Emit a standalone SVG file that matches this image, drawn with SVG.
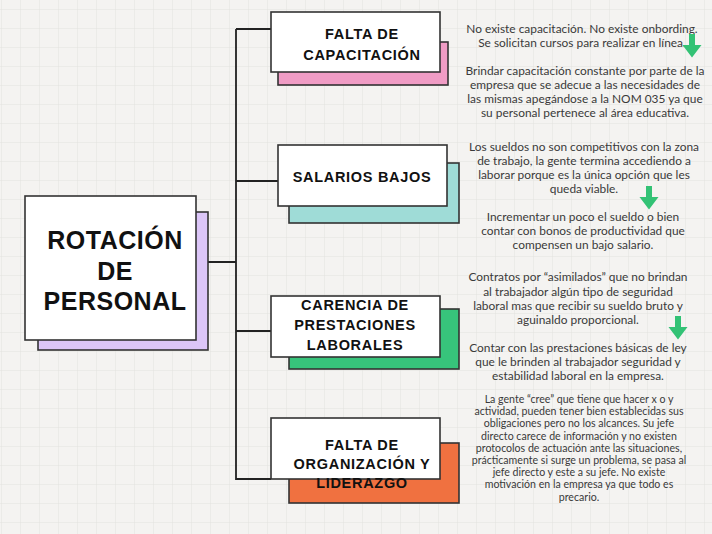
<svg xmlns="http://www.w3.org/2000/svg" width="712" height="534" viewBox="0 0 712 534">
<defs>
<pattern id="grid" width="19" height="19" patternUnits="userSpaceOnUse" x="2" y="10">
<path d="M19 0V19M0 19H19" fill="none" stroke="#e3e2df" stroke-width="1"/>
</pattern>
<path id="arrow" d="M-3 0H3V11H9.5L0 23.5L-9.5 11H-3Z" fill="#33c275"/>
</defs>
<style>
.box{fill:#ffffff;stroke:#333333;stroke-width:1.6}
.sh{stroke:#333333;stroke-width:1.6}
.title{font-family:"Liberation Sans",Arial,sans-serif;font-weight:bold;font-size:25px;fill:#111;text-anchor:middle;letter-spacing:0.5px}
.lbl{font-family:"Liberation Sans",Arial,sans-serif;font-weight:bold;font-size:14.5px;fill:#111;text-anchor:middle;letter-spacing:0.7px}
.desc{font-family:"Lato","Liberation Sans",sans-serif;font-size:11.9px;fill:#3a3a3a;text-anchor:middle}
.desc2{font-family:"Lato","Liberation Sans",sans-serif;font-size:10.6px;fill:#3a3a3a;text-anchor:middle}
.con{fill:none;stroke:#222;stroke-width:1.8}
</style>
<rect width="712" height="534" fill="#f4f3f1"/>
<rect width="712" height="534" fill="url(#grid)"/>

<g id="connectors">
<path class="con" d="M208 262H236M236 29V479H271M236 29H271M236 181H278M236 331H271"/>
</g>

<g id="node-rotacion">
<rect class="sh" x="38" y="212" width="170" height="138" fill="#dcc6f8"/>
<rect class="box" x="25" y="196" width="171" height="144"/>
<text class="title" x="115" y="249">ROTACIÓN</text>
<text class="title" x="115" y="280">DE</text>
<text class="title" x="115" y="310">PERSONAL</text>
</g>

<g id="node-capacitacion">
<rect class="sh" x="278" y="42" width="170" height="43" fill="#f09cc5"/>
<rect class="box" x="271" y="12" width="169" height="60"/>
<text class="lbl" x="362" y="39">FALTA DE</text>
<text class="lbl" x="362" y="60">CAPACITACIÓN</text>
</g>

<g id="node-salarios">
<rect class="sh" x="289" y="163" width="170" height="60" fill="#9fdcd7"/>
<rect class="box" x="278" y="145" width="169" height="61"/>
<text class="lbl" x="362" y="182">SALARIOS BAJOS</text>
</g>

<g id="node-prestaciones">
<rect class="sh" x="289" y="309" width="170" height="60" fill="#37c47b"/>
<rect class="box" x="271" y="296" width="169" height="61"/>
<text class="lbl" x="355" y="310">CARENCIA DE</text>
<text class="lbl" x="355" y="330">PRESTACIONES</text>
<text class="lbl" x="355" y="350">LABORALES</text>
</g>

<g id="node-organizacion">
<rect class="sh" x="289" y="443" width="170" height="60" fill="#f07140"/>
<rect class="box" x="271" y="418" width="169" height="61"/>
<text class="lbl" x="362" y="450">FALTA DE</text>
<text class="lbl" x="362" y="469">ORGANIZACIÓN Y</text>
<text class="lbl" x="362" y="488">LIDERAZGO</text>
</g>

<g id="text-capacitacion">
<text class="desc" x="582" y="33">No existe capacitación. No existe onbording.</text>
<text class="desc" x="582" y="47">Se solicitan cursos para realizar en línea.</text>
<use href="#arrow" x="692" y="34"/>
<text class="desc" x="585" y="75">Brindar capacitación constante por parte de la</text>
<text class="desc" x="585" y="89">empresa que se adecue a las necesidades de</text>
<text class="desc" x="585" y="103">las mismas apegándose a la NOM 035 ya que</text>
<text class="desc" x="585" y="117">su personal pertenece al área educativa.</text>
</g>

<g id="text-salarios">
<text class="desc" x="584" y="151">Los sueldos no son competitivos con la zona</text>
<text class="desc" x="584" y="165">de trabajo, la gente termina accediendo a</text>
<text class="desc" x="584" y="179">laborar porque es la única opción que les</text>
<text class="desc" x="584" y="193">queda viable.</text>
<use href="#arrow" x="649" y="186"/>
<text class="desc" x="583" y="221">Incrementar un poco el sueldo o bien</text>
<text class="desc" x="583" y="235">contar con bonos de productividad que</text>
<text class="desc" x="583" y="249">compensen un bajo salario.</text>
</g>

<g id="text-prestaciones">
<text class="desc" x="578" y="281">Contratos por “asimilados” que no brindan</text>
<text class="desc" x="578" y="296">al trabajador algún tipo de seguridad</text>
<text class="desc" x="578" y="310">laboral mas que recibir su sueldo bruto y</text>
<text class="desc" x="578" y="324">aguinaldo proporcional.</text>
<use href="#arrow" x="678" y="316"/>
<text class="desc" x="578" y="352">Contar con las prestaciones básicas de ley</text>
<text class="desc" x="578" y="366">que le brinden al trabajador seguridad y</text>
<text class="desc" x="578" y="380">estabilidad laboral en la empresa.</text>
</g>

<g id="text-organizacion">
<text class="desc2" x="579" y="403">La gente “cree” que tiene que hacer x o y</text>
<text class="desc2" x="579" y="415">actividad, pueden tener bien establecidas sus</text>
<text class="desc2" x="579" y="427">obligaciones pero no los alcances. Su jefe</text>
<text class="desc2" x="579" y="440">directo carece de información y no existen</text>
<text class="desc2" x="579" y="452">protocolos de actuación ante las situaciones,</text>
<text class="desc2" x="579" y="464">prácticamente si surge un problema, se pasa al</text>
<text class="desc2" x="579" y="476">jefe directo y este a su jefe. No existe</text>
<text class="desc2" x="579" y="488">motivación en la empresa ya que todo es</text>
<text class="desc2" x="579" y="501">precario.</text>
</g>
</svg>
